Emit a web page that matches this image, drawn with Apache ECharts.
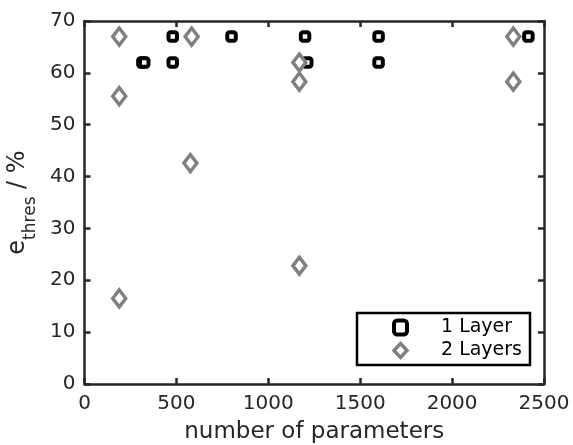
<!DOCTYPE html>
<html>
<head>
<meta charset="utf-8">
<script src="https://cdn.jsdelivr.net/npm/echarts@6/dist/echarts.min.js"></script>
<style>
  html, body { margin: 0; padding: 0; background: #fff; }
  #chart { width: 573px; height: 445px; }
</style>
</head>
<body>
<div id="chart"></div>
<script>
// Threshold error versus network size, one and two hidden layers
const xTicks = [0, 500, 1000, 1500, 2000, 2500];
const yTicks = [0, 10, 20, 30, 40, 50, 60, 70];

const oneLayerParams = [315, 325, 480, 480, 800, 1200, 1212, 1600, 1600, 2415];
const oneLayerThres  = [62, 62, 67, 62, 67, 67, 62, 67, 62, 67];

const twoLayerParams = [189, 189, 189, 583, 576, 1169, 1169, 1169, 2333, 2333];
const twoLayerThres  = [67, 55.5, 16.5, 67, 42.6, 62, 58.3, 22.8, 67, 58.3];

const seriesNames = ['1 Layer', '2 Layers'];

const FONT = 'DejaVu Sans';
const INK = '#262626';
const GRAY = '#808080';

function pairs(xs, ys) { return xs.map((x, i) => [x, ys[i]]); }
const plain = v => String(v);

const axisLine = { show: true, onZero: false, lineStyle: { color: INK, width: 2.5 } };
const axisTick = { show: true, inside: true, length: 6, lineStyle: { color: INK, width: 2.5 } };

const xBase = { type: 'value', min: xTicks[0], max: xTicks[xTicks.length - 1], interval: 500, splitLine: { show: false } };
const yBase = { type: 'value', min: yTicks[0], max: yTicks[yTicks.length - 1], interval: 10, splitLine: { show: false } };

const chart = echarts.init(document.getElementById('chart'), null, { renderer: 'canvas' });
chart.setOption({
  backgroundColor: '#fff',
  animation: false,
  grid: { left: 84.5, right: 29, top: 21, bottom: 61, containLabel: false, outerBoundsMode: 'none' },
  xAxis: [
    Object.assign({}, xBase, {
      position: 'bottom',
      axisLine, axisTick,
      axisLabel: { color: INK, fontFamily: FONT, fontSize: 20, margin: 10, formatter: plain },
      name: 'number of parameters',
      nameLocation: 'middle',
      nameGap: 37,
      nameTextStyle: { color: INK, fontFamily: FONT, fontSize: 23 }
    }),
    Object.assign({}, xBase, {
      position: 'top',
      axisLine, axisTick,
      axisLabel: { show: false }
    })
  ],
  yAxis: [
    Object.assign({}, yBase, {
      position: 'left',
      axisLine, axisTick,
      axisLabel: { color: INK, fontFamily: FONT, fontSize: 20, margin: 9, formatter: plain },
      name: '{e|e}{sub|thres}{e| / %}',
      nameLocation: 'middle',
      nameRotate: 90,
      nameGap: 36,
      nameTextStyle: {
        color: INK,
        fontFamily: FONT,
        rich: {
          e: { fontFamily: FONT, fontSize: 24, color: INK, lineHeight: 26, verticalAlign: 'top' },
          sub: { fontFamily: FONT, fontSize: 17, color: INK, lineHeight: 33, verticalAlign: 'bottom' }
        }
      }
    }),
    Object.assign({}, yBase, {
      position: 'right',
      axisLine, axisTick,
      axisLabel: { show: false }
    })
  ],
  legend: {
    orient: 'vertical',
    left: 357,
    top: 313,
    padding: [5, 8, 5, 35],
    itemGap: 4,
    itemWidth: 13,
    itemHeight: 14,
    borderColor: '#000',
    borderWidth: 2.5,
    backgroundColor: '#fff',
    textStyle: { color: '#000', fontFamily: FONT, fontSize: 19, padding: [0, 0, 0, 29] },
    data: [
      { name: seriesNames[0], icon: 'roundRect', itemStyle: { color: '#fff', borderColor: '#000', borderWidth: 4 } },
      { name: seriesNames[1], icon: 'diamond', itemStyle: { color: '#fff', borderColor: GRAY, borderWidth: 3.5 } }
    ]
  },
  series: [
    {
      name: seriesNames[0],
      type: 'scatter',
      xAxisIndex: 0,
      yAxisIndex: 0,
      symbol: 'roundRect',
      symbolSize: 8.5,
      itemStyle: { color: '#fff', borderColor: '#000', borderWidth: 4, opacity: 1 },
      data: pairs(oneLayerParams, oneLayerThres),
      z: 2
    },
    {
      name: seriesNames[1],
      type: 'scatter',
      xAxisIndex: 0,
      yAxisIndex: 0,
      symbol: 'diamond',
      symbolSize: [13, 17],
      itemStyle: { color: '#fff', borderColor: GRAY, borderWidth: 3.5, opacity: 1 },
      data: pairs(twoLayerParams, twoLayerThres),
      z: 3
    }
  ]
});
</script>
</body>
</html>
